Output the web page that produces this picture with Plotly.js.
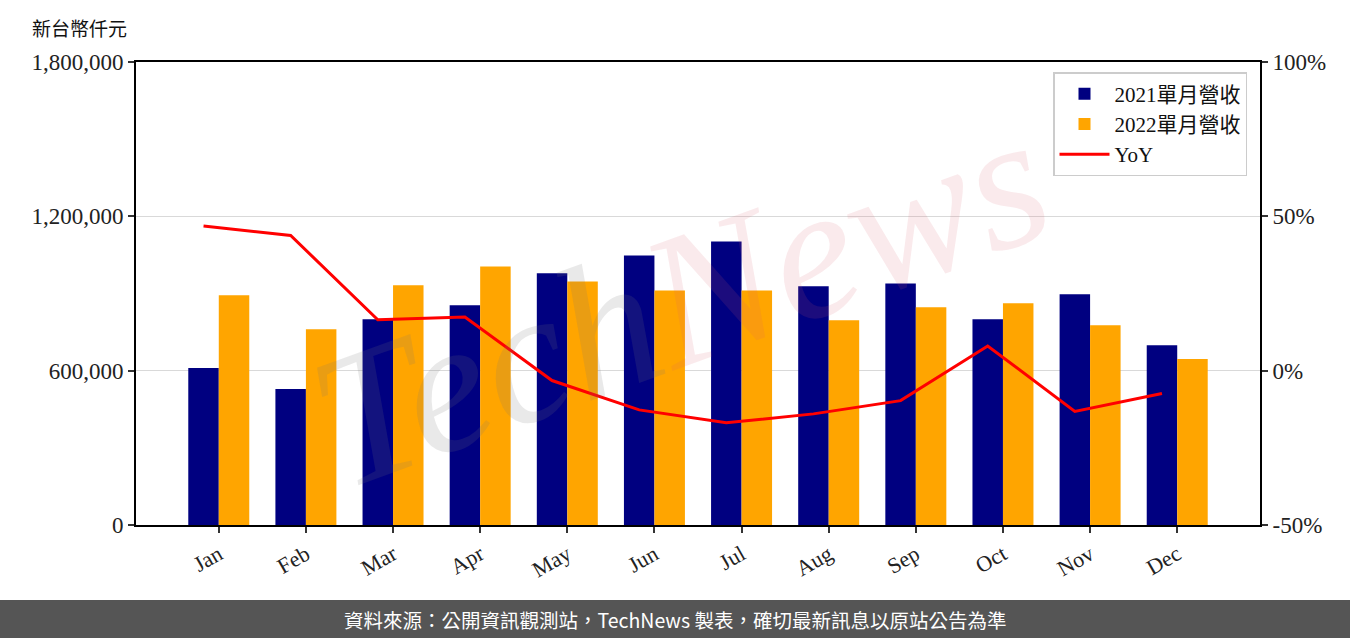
<!DOCTYPE html>
<html>
<head>
<meta charset="utf-8">
<script src="https://cdn.plot.ly/plotly-3.0.1.min.js"></script>
<style>
html,body{margin:0;padding:0;background:#fff;}
#chart{width:1350px;height:638px;}
</style>
</head>
<body>
<div id="chart"></div>
<script>
// ---- data ----
const months = ['Jan','Feb','Mar','Apr','May','Jun','Jul','Aug','Sep','Oct','Nov','Dec'];
const rev2021 = [610500, 529000, 800000, 854000, 979000, 1048000, 1102000, 928000, 939000, 800000, 897000, 699000];
const rev2022 = [893000, 761000, 932000, 1005000, 947000, 912000, 912000, 796000, 847000, 862000, 777000, 645000];
const yoy = [46.9, 43.8, 16.5, 17.4, -3.2, -12.7, -16.9, -14.0, -9.7, 8.0, -13.2, -7.4];
const seriesNames = ['2021單月營收', '2022單月營收', 'YoY'];
const leftTicks = [0, 600000, 1200000, 1800000];
const rightTicks = [-50, 0, 50, 100];
const rightTickText = ['-50%', '0%', '50%', '100%'];

// ---- geometry (pixels) ----
const W = 1350, H = 638;
const L = 136, R = 1260, T = 62, B = 525;
const pw = R - L, ph = B - T;
const px = x => (x - L) / pw;
const py = y => (B - y) / ph;

const idx = months.map((m, i) => i);
const barW = 0.35;

const serif = 'Liberation Serif, DejaVu Serif, serif';
const cjk = 'Noto Sans CJK TC, Noto Sans CJK SC, sans-serif';
const mixed = 'Liberation Serif, Noto Sans CJK TC, serif';

const traces = [
  {type:'bar', name: seriesNames[0], x: idx, y: rev2021, marker:{color:'#000080'}, width: barW, offset: -barW, yaxis:'y'},
  {type:'bar', name: seriesNames[1], x: idx, y: rev2022, marker:{color:'#FFA500'}, width: barW, offset: 0, yaxis:'y'},
  {type:'scatter', mode:'lines', name: seriesNames[2], x: idx.map(i => i - barW/2), y: yoy, line:{color:'#FF0000', width:3}, yaxis:'y2'}
];

const layout = {
  width: W, height: H,
  margin: {l: L, r: W - R, t: T, b: H - B, pad: 0},
  paper_bgcolor: '#fff', plot_bgcolor: 'rgba(0,0,0,0)',
  showlegend: true,
  barmode: 'overlay',
  xaxis: {
    range: [-0.95, 11.95], tickvals: idx, ticktext: months, tickangle: -30,
    showline: true, mirror: true, linecolor: '#000', linewidth: 2,
    ticks: 'outside', ticklen: 6, tickwidth: 2, tickcolor: '#333',
    showgrid: false, zeroline: false,
    tickfont: {family: serif, size: 22, color: '#222'}
  },
  yaxis: {
    range: [0, 1800000], tickvals: leftTicks, tickformat: ',d',
    showline: true, mirror: false, linecolor: '#000', linewidth: 2,
    ticks: 'outside', ticklen: 6, tickwidth: 2, tickcolor: '#333',
    showgrid: true, gridcolor: '#d9d9d9', gridwidth: 1.5, zeroline: false,
    tickfont: {family: serif, size: 23, color: '#222'}
  },
  yaxis2: {
    overlaying: 'y', side: 'right', range: [-50, 100], tickvals: rightTicks, ticktext: rightTickText,
    showline: true, linecolor: '#000', linewidth: 2,
    ticks: 'outside', ticklen: 6, tickwidth: 2, tickcolor: '#333',
    showgrid: false, zeroline: false,
    tickfont: {family: serif, size: 23, color: '#222'}
  },
  legend: {
    x: px(1247), y: py(72), xanchor: 'right', yanchor: 'top',
    bgcolor: 'rgba(255,255,255,0.85)', bordercolor: '#cccccc', borderwidth: 1.5,
    font: {family: mixed, size: 21, color: '#111'},
    traceorder: 'normal', itemwidth: 50, tracegroupgap: 4
  },
  shapes: [
    {type:'rect', xref:'paper', yref:'paper', x0: px(0), x1: px(W), y0: py(600), y1: py(H + 2),
     fillcolor:'#555555', line:{width:0}, layer:'above'}
  ],
  annotations: [
    {xref:'paper', yref:'paper', x: px(30), y: py(27), xanchor:'left', yanchor:'middle',
     text:'新台幣仟元', showarrow:false, font:{family: cjk, size: 19, color:'#111'}},
    {xref:'paper', yref:'paper', x: px(675), y: py(619), xanchor:'center', yanchor:'middle',
     text:'資料來源：公開資訊觀測站，TechNews 製表，確切最新訊息以原站公告為準', showarrow:false,
     font:{family: cjk, size: 19.5, color:'#ffffff'}},
    {xref:'paper', yref:'paper', x: px(680), y: py(300), xanchor:'center', yanchor:'middle',
     textangle: -20, showarrow:false,
     text:'<span style="color:rgba(120,120,120,0.16)">Tech</span><span style="color:rgba(220,90,110,0.13)">News</span>',
     font:{family:'Liberation Serif, serif', size: 190, style:'italic'}}
  ]
};

Plotly.newPlot('chart', traces, layout, {displayModeBar: false, staticPlot: true});
</script>
</body>
</html>
